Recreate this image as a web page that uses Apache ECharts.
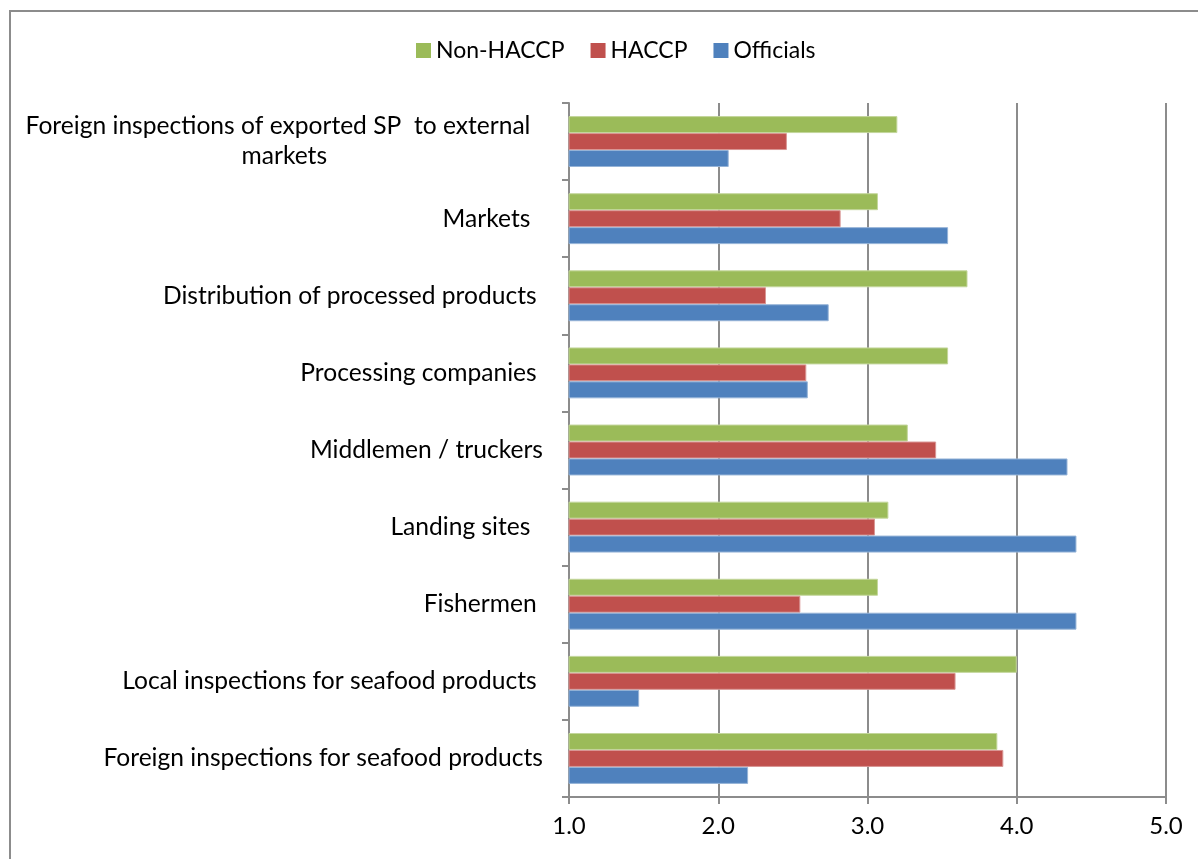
<!DOCTYPE html>
<html>
<head>
<meta charset="utf-8">
<script src="https://cdn.jsdelivr.net/npm/echarts@6/dist/echarts.min.js"></script>
<style>
  html, body { margin: 0; padding: 0; background: #fff; }
  #chart { width: 1198px; height: 859px; }
</style>
</head>
<body>
<div id="chart"></div>
<script>
// Categories, listed bottom to top as they appear on the y axis
const categories = [
  'Foreign inspections for seafood products',
  'Local inspections for seafood products ',
  'Fishermen ',
  'Landing sites  ',
  'Middlemen / truckers',
  'Processing companies ',
  'Distribution of processed products ',
  'Markets  ',
  'Foreign inspections of exported SP  to external  \nmarkets'
];

// Mean scores per group, same order as categories
const officials = [2.20, 1.47, 4.40, 4.40, 4.34, 2.60, 2.74, 3.54, 2.07];
const haccp     = [3.91, 3.59, 2.55, 3.05, 3.46, 2.59, 2.32, 2.82, 2.46];
const nonHaccp  = [3.87, 4.00, 3.07, 3.14, 3.27, 3.54, 3.67, 3.07, 3.20];

const legendOrder = ['Non-HACCP', 'HACCP', 'Officials'];
const xTicks = [1, 2, 3, 4, 5];

const FONT = 'Lato';
const AXIS_GREY = '#8c8c8c';

const chart = echarts.init(document.getElementById('chart'));

chart.setOption({
  animation: false,
  backgroundColor: '#fff',
  textStyle: { fontFamily: FONT, color: '#000' },
  graphic: [{
    type: 'rect',
    shape: { x: 10, y: 11, width: 1300, height: 1000 },
    style: { fill: 'none', stroke: AXIS_GREY, lineWidth: 2 },
    silent: true
  }],
  legend: {
    data: legendOrder,
    top: 34,
    left: 411,
    itemWidth: 15,
    itemHeight: 15,
    itemGap: 26,
    icon: 'rect',
    itemStyle: { borderWidth: 0 },
    textStyle: { fontFamily: FONT, fontSize: 23, color: '#000' }
  },
  grid: { left: 569, right: 32, top: 103, bottom: 62, containLabel: false },
  xAxis: {
    type: 'value',
    min: xTicks[0],
    max: xTicks[xTicks.length - 1],
    interval: 1,
    axisLine: { show: true, lineStyle: { color: AXIS_GREY, width: 2 } },
    axisTick: { show: true, length: 7, lineStyle: { color: AXIS_GREY, width: 2 } },
    splitLine: { show: true, lineStyle: { color: AXIS_GREY, width: 2 } },
    axisLabel: {
      margin: 17,
      fontFamily: FONT,
      fontSize: 24,
      color: '#000',
      formatter: v => v.toFixed(1)
    }
  },
  yAxis: {
    type: 'category',
    data: categories,
    axisLine: { show: true, lineStyle: { color: AXIS_GREY, width: 2 } },
    axisTick: { show: true, length: 7, lineStyle: { color: AXIS_GREY, width: 2 } },
    splitLine: { show: false },
    axisLabel: {
      margin: 26,
      interval: 0,
      formatter: v => '{c|' + v + '}',
      rich: {
        c: { align: 'center', fontFamily: FONT, fontSize: 24.6, color: '#000', lineHeight: 30 }
      }
    }
  },
  // Series run top to bottom inside each category band
  series: [
    {
      name: 'Non-HACCP', type: 'bar', data: nonHaccp,
      barGap: '0%', barCategoryGap: '34%',
      itemStyle: { color: '#9BBB59', borderColor: '#c3d69b', borderWidth: 1 }
    },
    {
      name: 'HACCP', type: 'bar', data: haccp,
      barGap: '0%', barCategoryGap: '34%',
      itemStyle: { color: '#C0504D', borderColor: '#d99694', borderWidth: 1 }
    },
    {
      name: 'Officials', type: 'bar', data: officials,
      barGap: '0%', barCategoryGap: '34%',
      itemStyle: { color: '#4F81BD', borderColor: '#95b3d7', borderWidth: 1 }
    }
  ]
});
</script>
</body>
</html>
